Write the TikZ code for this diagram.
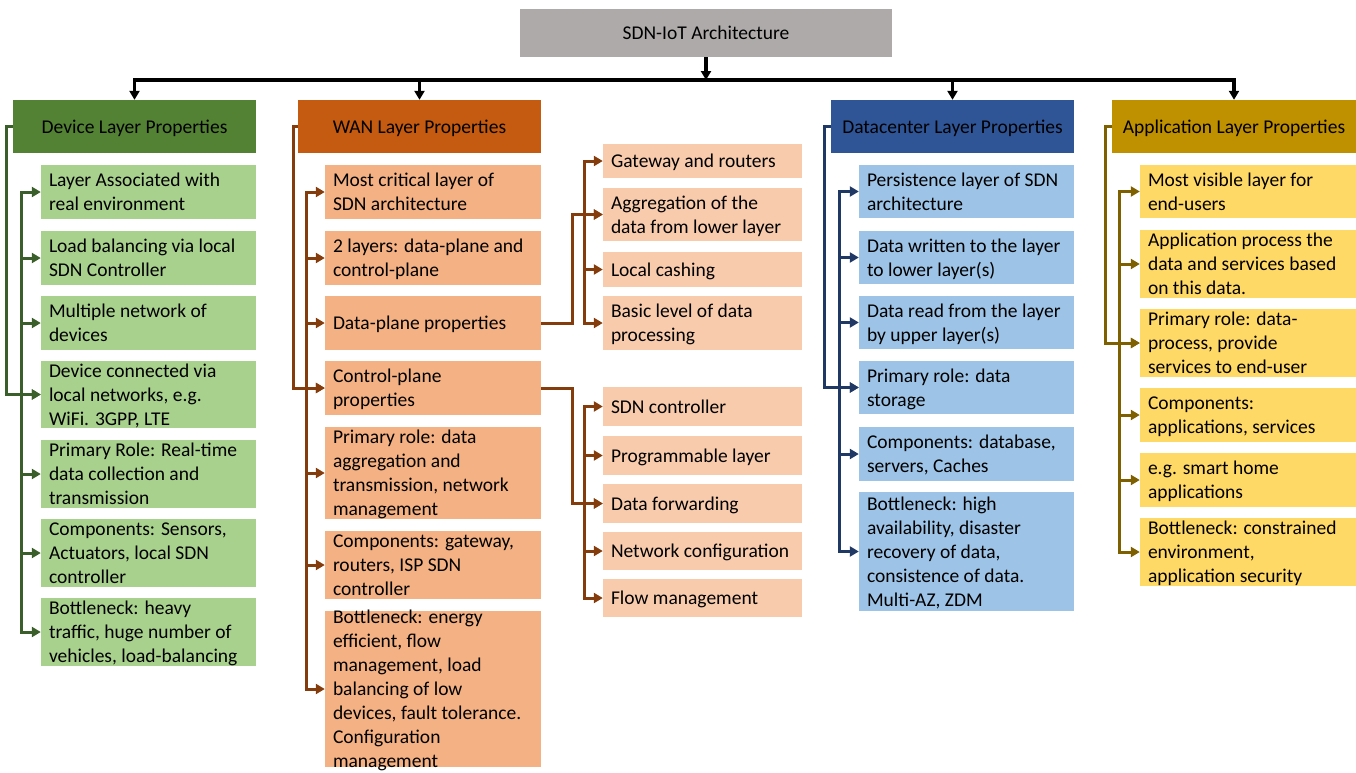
\documentclass[tikz,border=0pt]{standalone}
\usepackage{fontspec}
\setmainfont{Carlito}
\usetikzlibrary{arrows.meta}

\definecolor{titlegray}{HTML}{AEAAAA}
\definecolor{devhead}{HTML}{548235}
\definecolor{devitem}{HTML}{A9D18E}
\definecolor{devline}{HTML}{3B5F2A}
\definecolor{wanhead}{HTML}{C55A11}
\definecolor{wanitem}{HTML}{F4B183}
\definecolor{wansub}{HTML}{F8CBAD}
\definecolor{wanline}{HTML}{843C0C}
\definecolor{dchead}{HTML}{2F5597}
\definecolor{dcitem}{HTML}{9DC3E6}
\definecolor{dcline}{HTML}{203864}
\definecolor{apphead}{HTML}{BF9000}
\definecolor{appitem}{HTML}{FFD966}
\definecolor{appline}{HTML}{7F6000}

% strut that keeps multi-line labels visually centred
\newcommand\sst{\rule[-5.2pt]{0pt}{24pt}}

% filled box from (x1,y1) to (x2,y2) with a left-aligned label
\newcommand\ibox[7]{%
  \node[#1, minimum width={(#5-#3)*1pt}, minimum height={(#6-#4)*1pt}]
    (#2) at ({(#3+#5)/2},{(#4+#6)/2}) {};
  \node[txt, anchor=west] at ([xshift=8pt]#2.west) {\sst#7\sst};}
% filled box with a centred label
\newcommand\headbox[7]{%
  \node[#1, minimum width={(#5-#3)*1pt}, minimum height={(#6-#4)*1pt}]
    (#2) at ({(#3+#5)/2},{(#4+#6)/2}) {};
  \node[txt, align=center] at (#2.center) {\sst#7\sst};}

\begin{document}
\begin{tikzpicture}[x=1pt, y=-1pt,
  boxbase/.style={inner sep=0pt, draw=none, rectangle},
  txt/.style={inner sep=0pt, align=left, text=black,
    font=\fontsize{19.5pt}{24pt}\selectfont},
  tip/.style={-{Triangle[length=9pt,width=10pt]}},
  link/.style={line width=3pt},
  topl/.style={link, line width=3.4pt, black},
  devl/.style={link, devline},
  wanl/.style={link, wanline},
  dcl/.style={link, dcline},
  appl/.style={link, appline},
  bus/.style={line cap=rect}]

\useasboundingbox (0,0) rectangle (1356,772);

% ---------- title ----------
\headbox{boxbase, fill=titlegray}{title}{520}{9}{892}{57}{SDN-IoT Architecture}

% ---------- layer headers ----------
\headbox{boxbase, fill=devhead}{dh}{13}{100}{256}{153}{Device Layer Properties}
\headbox{boxbase, fill=wanhead}{wh}{298}{100}{541}{153}{WAN Layer Properties}
\headbox{boxbase, fill=dchead}{kh}{831}{100}{1074}{153}{Datacenter Layer Properties}
\headbox{boxbase, fill=apphead}{ah}{1112}{100}{1356}{153}{Application Layer Properties}

% ---------- device layer ----------
\ibox{boxbase, fill=devitem}{d1}{41}{165}{256}{219}{Layer Associated with\\real environment}
\ibox{boxbase, fill=devitem}{d2}{41}{231}{256}{285}{Load balancing via local\\SDN Controller}
\ibox{boxbase, fill=devitem}{d3}{41}{296}{256}{350}{Multiple network of\\devices}
\ibox{boxbase, fill=devitem}{d4}{41}{361}{256}{428}{Device connected via\\local networks, e.g.\\WiFi. 3GPP, LTE}
\ibox{boxbase, fill=devitem}{d5}{41}{440}{256}{508}{Primary Role: Real-time\\data collection and\\transmission}
\ibox{boxbase, fill=devitem}{d6}{41}{519}{256}{587}{Components: Sensors,\\Actuators, local SDN\\controller}
\ibox{boxbase, fill=devitem}{d7}{41}{598}{256}{666}{Bottleneck: heavy\\traffic, huge number of\\vehicles, load-balancing}

% ---------- WAN layer ----------
\ibox{boxbase, fill=wanitem}{w1}{325}{165}{541}{219}{Most critical layer of\\SDN architecture}
\ibox{boxbase, fill=wanitem}{w2}{325}{231}{541}{285}{2 layers: data-plane and\\control-plane}
\ibox{boxbase, fill=wanitem}{w3}{325}{296}{541}{350}{Data-plane properties}
\ibox{boxbase, fill=wanitem}{w4}{325}{361}{541}{415}{Control-plane\\properties}
\ibox{boxbase, fill=wanitem}{w5}{325}{427}{541}{519}{Primary role: data\\aggregation and\\transmission, network\\management}
\ibox{boxbase, fill=wanitem}{w6}{325}{531}{541}{599}{Components: gateway,\\routers, ISP SDN\\controller}
\ibox{boxbase, fill=wanitem}{w7}{325}{611}{541}{767}{Bottleneck: energy\\efficient, flow\\management, load\\balancing of low\\devices, fault tolerance.\\Configuration\\management}

% data-plane details
\ibox{boxbase, fill=wansub}{s1}{603}{144}{802}{178}{Gateway and routers}
\ibox{boxbase, fill=wansub}{s2}{603}{188}{802}{241}{Aggregation of the\\data from lower layer}
\ibox{boxbase, fill=wansub}{s3}{603}{252}{802}{287}{Local cashing}
\ibox{boxbase, fill=wansub}{s4}{603}{296}{802}{350}{Basic level of data\\processing}

% control-plane details
\ibox{boxbase, fill=wansub}{c1}{603}{387}{802}{426}{SDN controller}
\ibox{boxbase, fill=wansub}{c2}{603}{436}{802}{475}{Programmable layer}
\ibox{boxbase, fill=wansub}{c3}{603}{484}{802}{523}{Data forwarding}
\ibox{boxbase, fill=wansub}{c4}{603}{532}{802}{570}{Network configuration}
\ibox{boxbase, fill=wansub}{c5}{603}{579}{802}{617}{Flow management}

% ---------- datacenter layer ----------
\ibox{boxbase, fill=dcitem}{k1}{859}{165}{1074}{218}{Persistence layer of SDN\\architecture}
\ibox{boxbase, fill=dcitem}{k2}{859}{231}{1074}{284}{Data written to the layer\\to lower layer(s)}
\ibox{boxbase, fill=dcitem}{k3}{859}{296}{1074}{349}{Data read from the layer\\by upper layer(s)}
\ibox{boxbase, fill=dcitem}{k4}{859}{361}{1074}{414}{Primary role: data\\storage}
\ibox{boxbase, fill=dcitem}{k5}{859}{427}{1074}{481}{Components: database,\\servers, Caches}
\ibox{boxbase, fill=dcitem}{k6}{859}{492}{1074}{611}{Bottleneck: high\\availability, disaster\\recovery of data,\\consistence of data.\\Multi-AZ, ZDM}

% ---------- application layer ----------
\ibox{boxbase, fill=appitem}{a1}{1140}{165}{1356}{218}{Most visible layer for\\end-users}
\ibox{boxbase, fill=appitem}{a2}{1140}{230}{1356}{298}{Application process the\\data and services based\\on this data.}
\ibox{boxbase, fill=appitem}{a3}{1140}{309}{1356}{377}{Primary role: data-\\process, provide\\services to end-user}
\ibox{boxbase, fill=appitem}{a4}{1140}{388}{1356}{442}{Components:\\applications, services}
\ibox{boxbase, fill=appitem}{a5}{1140}{453}{1356}{507}{e.g. smart home\\applications}
\ibox{boxbase, fill=appitem}{a6}{1140}{518}{1356}{586}{Bottleneck: constrained\\environment,\\application security}

% ---------- top-level connectors ----------
\coordinate (hub) at (title.south |- 0,80);
\draw[topl, tip] (title.south) -- (hub);
\draw[topl, bus] (dh.north |- hub) -- (ah.north |- hub);
\foreach \h in {dh,wh,kh,ah}
  \draw[topl, tip] (\h.north |- hub) -- (\h.north);

% ---------- device connectors ----------
\draw[devl, tip] (dh.west) -- ++(-6,0) |- (d4.west);
\draw[devl, bus] ([xshift=-19pt]d1.west) -- ([xshift=-19pt]d7.west);
\foreach \n in {d1,d2,d3,d4,d5,d6,d7}
  \draw[devl, tip] ([xshift=-19pt]\n.west) -- (\n.west);

% ---------- WAN connectors ----------
\draw[wanl, tip] (wh.west) -- ++(-4,0) |- (w4.west);
\draw[wanl, bus] ([xshift=-18pt]w1.west) -- ([xshift=-18pt]w7.west);
\foreach \n in {w1,w2,w3,w4,w5,w6,w7}
  \draw[wanl, tip] ([xshift=-18pt]\n.west) -- (\n.west);

\draw[wanl, tip] (w3.east) -- ++(31,0) |- (s2.west);
\draw[wanl, bus] ([xshift=-18pt]s1.west) -- ([xshift=-18pt]s4.west);
\foreach \n in {s1,s2,s3,s4}
  \draw[wanl, tip] ([xshift=-18pt]\n.west) -- (\n.west);

\draw[wanl, tip] (w4.east) -- ++(31,0) |- (c3.west);
\draw[wanl, bus] ([xshift=-18pt]c1.west) -- ([xshift=-18pt]c5.west);
\foreach \n in {c1,c2,c3,c4,c5}
  \draw[wanl, tip] ([xshift=-18pt]\n.west) -- (\n.west);

% ---------- datacenter connectors ----------
\draw[dcl, tip] (kh.west) -- ++(-6,0) |- (k4.west);
\draw[dcl, bus] ([xshift=-19pt]k1.west) -- ([xshift=-19pt]k6.west);
\foreach \n in {k1,k2,k3,k4,k5,k6}
  \draw[dcl, tip] ([xshift=-19pt]\n.west) -- (\n.west);

% ---------- application connectors ----------
\draw[appl, tip] (ah.west) -- ++(-6,0) |- (a3.west);
\draw[appl, bus] ([xshift=-20pt]a1.west) -- ([xshift=-20pt]a6.west);
\foreach \n in {a1,a2,a3,a4,a5,a6}
  \draw[appl, tip] ([xshift=-20pt]\n.west) -- (\n.west);

\end{tikzpicture}
\end{document}
